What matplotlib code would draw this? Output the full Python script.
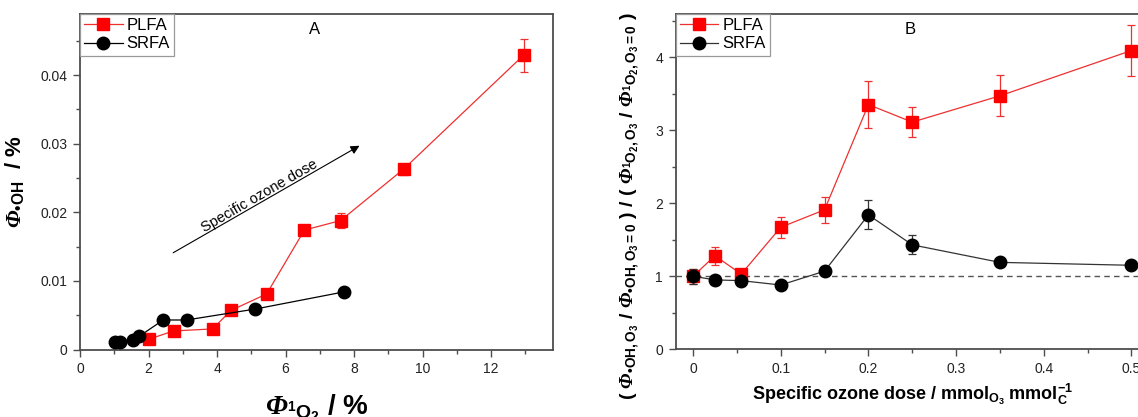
import matplotlib
matplotlib.use("Agg")
import matplotlib.pyplot as plt
from matplotlib.ticker import MultipleLocator

# panel A: quantum yields, PLFA and SRFA
plfa_a_x = [2.01, 2.73, 3.87, 4.41, 5.45, 6.55, 7.61, 9.45, 12.95]
plfa_a_y = [0.0015, 0.0027, 0.0030, 0.0057, 0.0081, 0.0174, 0.0188, 0.0263, 0.0429]
plfa_a_err = [0.0002, 0.0002, 0.0002, 0.0003, 0.0003, 0.0004, 0.0011, 0.0008, 0.0024]
srfa_a_x = [1.02, 1.17, 1.55, 1.72, 2.43, 3.11, 5.12, 7.71]
srfa_a_y = [0.0011, 0.0011, 0.0014, 0.0019, 0.0043, 0.0043, 0.0059, 0.0084]

# panel B: normalised ratio vs specific ozone dose
dose = [0, 0.025, 0.055, 0.1, 0.15, 0.2, 0.25, 0.35, 0.5]
plfa_b = [1.0, 1.28, 1.03, 1.67, 1.91, 3.35, 3.11, 3.47, 4.09]
plfa_b_err = [0.1, 0.125, 0.05, 0.14, 0.175, 0.32, 0.21, 0.28, 0.345]
srfa_b = [1.0, 0.95, 0.94, 0.88, 1.07, 1.84, 1.43, 1.19, 1.15]
srfa_b_err = [0.1, 0.05, 0.05, 0.03, 0.04, 0.2, 0.13, 0.04, 0.03]

plt.rcParams['font.family'] = ['Liberation Sans', 'DejaVu Sans']
plt.rcParams['mathtext.fontset'] = 'custom'
plt.rcParams['mathtext.rm'] = 'Liberation Sans:bold'
plt.rcParams['mathtext.it'] = 'Liberation Sans:italic:bold'
plt.rcParams['mathtext.bf'] = 'Liberation Sans:bold'
plt.rcParams['mathtext.cal'] = 'Liberation Serif:italic:bold'

RED = '#ff0000'
RED_LINE = '#ee3030'
SPINE = '#4d4d4d'
BUL = '\u2022'

W, H = 1138, 417
fig = plt.figure(figsize=(W / 100, H / 100), dpi=100)
axA = fig.add_axes([80 / W, (H - 349.5) / H, 472.7 / W, 335.5 / H])
axB = fig.add_axes([675.5 / W, (H - 349.3) / H, 473.5 / W, 335.3 / H])


def style(ax):
    for s in ax.spines.values():
        s.set_color(SPINE)
        s.set_linewidth(1.3)
    ax.tick_params(which='both', direction='out', top=False, right=False,
                   color=SPINE, labelsize=10, labelcolor='#222222')
    ax.tick_params(which='major', length=5, width=1, pad=4)
    ax.tick_params(which='minor', length=3, width=1)


def series(ax, x, y, err, color, line_color, marker, label):
    ax.errorbar(x, y, yerr=err, fmt='none', ecolor=line_color, elinewidth=0.9,
                capsize=3, capthick=0.9, zorder=2)
    ax.plot(x, y, '-', color=line_color, lw=0.9, marker=marker, ms=9,
            mfc=color, mec=color, label=label, zorder=3)


def legend(ax):
    leg = ax.legend(loc='upper left', bbox_to_anchor=(0, 1), borderaxespad=0,
                    fancybox=False, edgecolor='#999999', framealpha=1,
                    fontsize=12, handlelength=2.3, handletextpad=0.25,
                    labelspacing=0.2, borderpad=0.25)
    leg.get_frame().set_linewidth(0.9)


# ---- panel A
series(axA, plfa_a_x, plfa_a_y, plfa_a_err, RED, RED_LINE, 's', 'PLFA')
series(axA, srfa_a_x, srfa_a_y, [0] * len(srfa_a_x), 'black', 'black', 'o', 'SRFA')
axA.set_xlim(0, 13.8)
axA.set_ylim(0, 0.0489)
axA.xaxis.set_major_locator(MultipleLocator(2))
axA.xaxis.set_minor_locator(MultipleLocator(1))
axA.yaxis.set_major_locator(MultipleLocator(0.01))
axA.yaxis.set_minor_locator(MultipleLocator(0.005))
axA.set_yticks([0, 0.01, 0.02, 0.03, 0.04], ['0', '0.01', '0.02', '0.03', '0.04'])
style(axA)
legend(axA)
axA.text(0.497, 0.955, 'A', transform=axA.transAxes, ha='center', va='center', fontsize=12)
axA.annotate('', xy=(8.16, 0.0297), xytext=(2.72, 0.0141),
             arrowprops=dict(arrowstyle='-|>', color='black', lw=0.8,
                             mutation_scale=13, shrinkA=0, shrinkB=0))
axA.text(5.23, 0.0223, 'Specific ozone dose', rotation=30, rotation_mode='anchor',
         ha='center', va='center', fontsize=10.5)
axA.set_xlabel(r'$\mathcal{\Phi}_{{}^{1}\mathrm{O}_{2}}$ / %', fontsize=20,
               fontweight='bold', labelpad=12)
axA.set_ylabel(r'$\mathcal{\Phi}_{\mathrm{BULOH}}$  / %'.replace('BUL', BUL),
               fontsize=16, fontweight='bold')
axA.yaxis.set_label_coords(-0.112, 0.5)

# ---- panel B
axB.axhline(1, color='#555555', lw=1, ls=(0, (4, 3)), zorder=1)
series(axB, dose, plfa_b, plfa_b_err, RED, RED_LINE, 's', 'PLFA')
series(axB, dose, srfa_b, srfa_b_err, 'black', '#333333', 'o', 'SRFA')
axB.set_xlim(-0.02, 0.52)
axB.set_ylim(0, 4.59)
axB.xaxis.set_major_locator(MultipleLocator(0.1))
axB.xaxis.set_minor_locator(MultipleLocator(0.05))
axB.yaxis.set_major_locator(MultipleLocator(1))
axB.yaxis.set_minor_locator(MultipleLocator(0.5))
axB.set_xticks([0, 0.1, 0.2, 0.3, 0.4, 0.5], ['0', '0.1', '0.2', '0.3', '0.4', '0.5'])
style(axB)
legend(axB)
axB.text(0.495, 0.955, 'B', transform=axB.transAxes, ha='center', va='center', fontsize=12)
axB.set_xlabel(r'Specific ozone dose / mmol$_{\mathrm{O_3}}$ mmol$_{\mathrm{C}}^{\mathrm{-1}}$',
               fontsize=13, fontweight='bold')
ylab_b = (r'( $\mathcal{\Phi}_{\mathrm{BULOH,O_3}}$ / $\mathcal{\Phi}_{\mathrm{BULOH,O_3=0}}$ )'
          r' / ( $\mathcal{\Phi}_{\mathrm{{}^1O_2,O_3}}$ / $\mathcal{\Phi}_{\mathrm{{}^1O_2,O_3=0}}$ )')
axB.set_ylabel(ylab_b.replace('BUL', BUL), fontsize=14, fontweight='bold')
axB.yaxis.set_label_coords(-0.073, 0.427)

fig.savefig('out.png', dpi=100)
